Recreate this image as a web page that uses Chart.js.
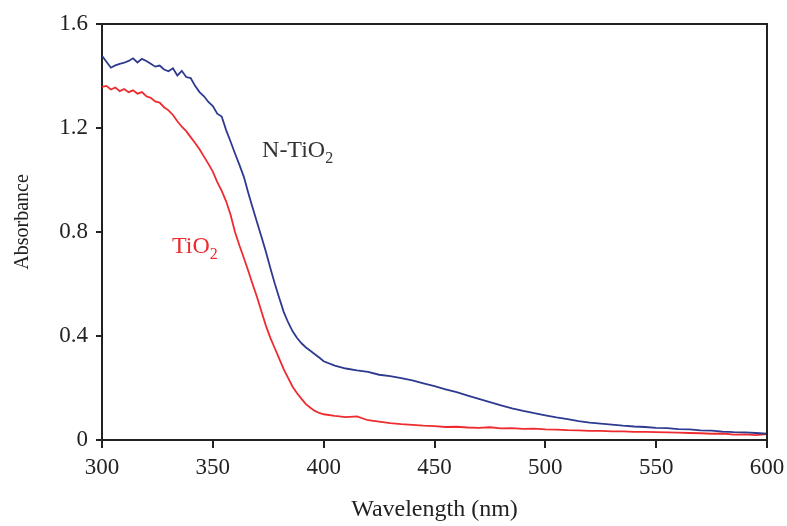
<!DOCTYPE html>
<html>
<head>
<meta charset="utf-8">
<script src="https://cdn.jsdelivr.net/npm/chart.js@4/dist/chart.umd.min.js"></script>
<style>
  html, body { margin: 0; padding: 0; background: #ffffff; }
  #wrap { width: 787px; height: 526px; }
</style>
</head>
<body>
<div id="wrap"><canvas id="c" width="787" height="526"></canvas></div>
<script>
// Wavelength grid (nm): 2 nm steps through the absorption edge, 5 nm steps in the tail
const wavelengths = [
  300, 302, 304, 306, 308, 310, 312, 314, 316, 318,
  320, 322, 324, 326, 328, 330, 332, 334, 336, 338,
  340, 342, 344, 346, 348, 350, 352, 354, 356, 358,
  360, 362, 364, 366, 368, 370, 372, 374, 376, 378,
  380, 382, 384, 386, 388, 390, 392, 394, 396, 398,
  400, 405, 410, 415, 420, 425, 430, 435, 440, 445,
  450, 455, 460, 465, 470, 475, 480, 485, 490, 495,
  500, 505, 510, 515, 520, 525, 530, 535, 540, 545,
  550, 555, 560, 565, 570, 575, 580, 585, 590, 595, 600
];

// Absorbance of nitrogen-doped TiO2
const absNTiO2 = [
  1.478, 1.455, 1.432, 1.441, 1.447, 1.451, 1.458, 1.468, 1.452, 1.466,
  1.458, 1.447, 1.436, 1.440, 1.425, 1.418, 1.430, 1.402, 1.420, 1.396,
  1.392, 1.362, 1.338, 1.322, 1.300, 1.284, 1.255, 1.244, 1.192, 1.148,
  1.102, 1.058, 1.012, 0.950, 0.892, 0.836, 0.780, 0.722, 0.660, 0.600,
  0.545, 0.492, 0.452, 0.418, 0.392, 0.372, 0.356, 0.343, 0.330, 0.317,
  0.303, 0.286, 0.275, 0.268, 0.262, 0.251, 0.246, 0.238, 0.229, 0.218,
  0.207, 0.195, 0.184, 0.171, 0.158, 0.146, 0.133, 0.122, 0.112, 0.103,
  0.095, 0.087, 0.080, 0.073, 0.067, 0.063, 0.059, 0.055, 0.052, 0.050,
  0.047, 0.046, 0.042, 0.041, 0.037, 0.036, 0.032, 0.030, 0.029, 0.027, 0.024
];

// Absorbance of undoped TiO2
const absTiO2 = [
  1.358, 1.362, 1.348, 1.356, 1.342, 1.350, 1.338, 1.345, 1.332, 1.338,
  1.322, 1.316, 1.302, 1.298, 1.280, 1.268, 1.250, 1.226, 1.205, 1.188,
  1.165, 1.142, 1.118, 1.090, 1.062, 1.032, 0.992, 0.958, 0.918, 0.866,
  0.800, 0.748, 0.700, 0.650, 0.598, 0.548, 0.492, 0.438, 0.392, 0.352,
  0.312, 0.272, 0.238, 0.205, 0.180, 0.158, 0.138, 0.124, 0.112, 0.104,
  0.099, 0.093, 0.088, 0.091, 0.076, 0.071, 0.065, 0.061, 0.058, 0.055,
  0.053, 0.050, 0.051, 0.048, 0.047, 0.049, 0.045, 0.046, 0.043, 0.044,
  0.041, 0.040, 0.038, 0.037, 0.035, 0.035, 0.033, 0.033, 0.031, 0.031,
  0.030, 0.029, 0.028, 0.027, 0.026, 0.024, 0.025, 0.021, 0.022, 0.019, 0.023
];

// Axis ticks
const xTicks = [300, 350, 400, 450, 500, 550, 600];
const yTicks = [0, 0.4, 0.8, 1.2, 1.6];

// In-plot curve labels (main text + subscript), anchored in data units
const curveLabels = [
  { text: 'N-TiO', sub: '2', x: 372.2, y: 1.088, color: '#333333' },
  { text: 'TiO', sub: '2', x: 331.6, y: 0.719, color: '#ee2b2f' }
];

const INK = '#222222';
const SERIF = '"Liberation Serif", "Times New Roman", serif';

const toPoints = (vals) => vals.map((v, i) => ({ x: wavelengths[i], y: v }));

// Frame around the plot area, the vertical axis title and the curve labels
const framePlugin = {
  id: 'frameAndLabels',
  afterDatasetsDraw(chart) {
    const { ctx, chartArea: a, scales } = chart;
    ctx.save();
    ctx.strokeStyle = INK;
    ctx.lineWidth = 2;
    ctx.beginPath();
    ctx.moveTo(a.left, a.top);
    ctx.lineTo(a.right, a.top);
    ctx.lineTo(a.right, a.bottom);
    ctx.stroke();

    ctx.textBaseline = 'alphabetic';
    ctx.textAlign = 'left';
    curveLabels.forEach(l => {
      const px = scales.x.getPixelForValue(l.x);
      const py = scales.y.getPixelForValue(l.y);
      ctx.fillStyle = l.color;
      ctx.font = '24px ' + SERIF;
      ctx.fillText(l.text, px, py);
      const w = ctx.measureText(l.text).width;
      ctx.font = '16px ' + SERIF;
      ctx.fillText(l.sub, px + w, py + 6);
    });

    // Vertical axis title
    ctx.translate(23, 222);
    ctx.rotate(-Math.PI / 2);
    ctx.fillStyle = INK;
    ctx.font = '20px ' + SERIF;
    ctx.textAlign = 'center';
    ctx.textBaseline = 'middle';
    ctx.fillText('Absorbance', 0, 0);
    ctx.restore();
  }
};

new Chart(document.getElementById('c'), {
  type: 'line',
  data: {
    datasets: [
      {
        label: 'N-TiO2',
        data: toPoints(absNTiO2),
        borderColor: '#2e3a8f',
        borderWidth: 1.8,
        pointRadius: 0,
        tension: 0,
        fill: false
      },
      {
        label: 'TiO2',
        data: toPoints(absTiO2),
        borderColor: '#ee2b2f',
        borderWidth: 1.8,
        pointRadius: 0,
        tension: 0,
        fill: false
      }
    ]
  },
  options: {
    responsive: false,
    devicePixelRatio: 1,
    animation: false,
    layout: { padding: { top: 24, right: 20, left: 0, bottom: 0 } },
    plugins: {
      legend: { display: false },
      tooltip: { enabled: false }
    },
    scales: {
      x: {
        type: 'linear',
        min: 300,
        max: 600,
        afterFit(scale) {
          scale.height = 86;
          scale.paddingLeft = 0;
          scale.paddingRight = 0;
        },
        afterBuildTicks(scale) { scale.ticks = xTicks.map(v => ({ value: v })); },
        border: { display: true, color: INK, width: 2 },
        grid: { display: true, drawOnChartArea: false, drawTicks: true, tickLength: 8, color: INK, lineWidth: 2 },
        ticks: {
          color: INK,
          font: { family: SERIF, size: 23 },
          padding: 6,
          maxRotation: 0,
          callback: v => String(v)
        },
        title: {
          display: true,
          text: 'Wavelength (nm)',
          color: INK,
          font: { family: SERIF, size: 24 },
          padding: { top: 0, bottom: 2 }
        }
      },
      y: {
        type: 'linear',
        min: 0,
        max: 1.6,
        afterFit(scale) {
          scale.width = 102;
          scale.paddingTop = 0;
          scale.paddingBottom = 0;
        },
        afterBuildTicks(scale) { scale.ticks = yTicks.map(v => ({ value: v })); },
        border: { display: true, color: INK, width: 2 },
        grid: { display: true, drawOnChartArea: false, drawTicks: true, tickLength: 6, color: INK, lineWidth: 2 },
        ticks: {
          color: INK,
          font: { family: SERIF, size: 23 },
          padding: 8,
          callback: v => (v === 0 ? '0' : v.toFixed(1))
        }
      }
    }
  },
  plugins: [framePlugin]
});
</script>
</body>
</html>
